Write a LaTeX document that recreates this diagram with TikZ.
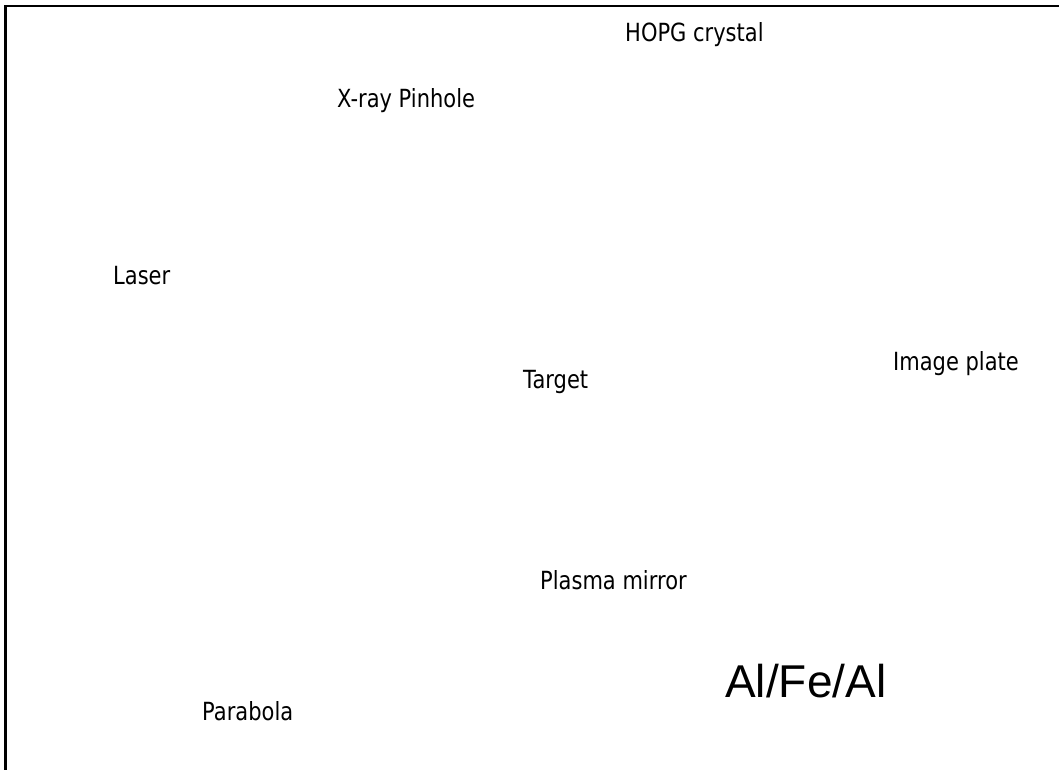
\documentclass[tikz,border=0pt]{standalone}
\usepackage{fontspec}
\setmainfont{DejaVu Sans}[FakeStretch=0.84]
\newfontfamily\arialfont{Liberation Sans}
\usetikzlibrary{positioning}

\begin{document}
\begin{tikzpicture}[x=1pt,y=-1pt,
    lbl/.style={anchor=base west,inner sep=0pt,font=\fontsize{25}{29}\selectfont}]
  \useasboundingbox (0,0) rectangle (1059,770);
  % frame, cut off at the right and bottom
  \draw[line width=2.5pt] (5.3,770) -- (5.3,5.8) -- (1059,5.8);
  \node[lbl] (hopg) at (625,42) {HOPG crystal};
  \node[lbl] (pinhole) at (337,108) {X-ray Pinhole};
  \node[lbl] (laser) at (113,284) {Laser};
  \node[lbl] (target) at (523,388) {Target};
  \node[lbl] (plate) at (893,370) {Image plate};
  \node[lbl] (mirror) at (540,589) {Plasma mirror};
  \node[lbl] (parabola) at (202,720) {Parabola};
  \node[anchor=base west,inner sep=0pt,font=\arialfont\fontsize{46}{50}\selectfont]
    (foil) at (725,697) {Al/Fe/Al};
\end{tikzpicture}
\end{document}
